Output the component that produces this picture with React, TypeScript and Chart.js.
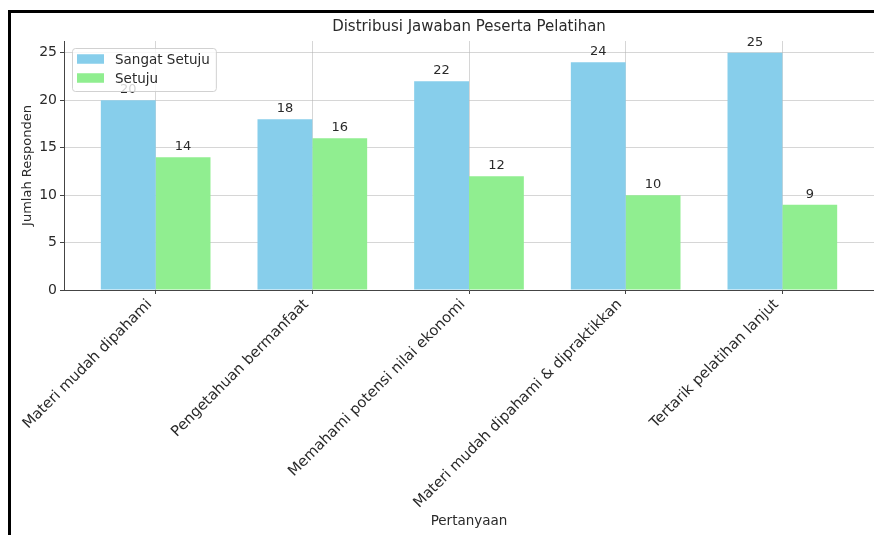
import React, { useEffect, useRef } from 'react';
import { Chart, registerables } from 'chart.js';

Chart.register(...registerables);

const categories = [
  'Materi mudah dipahami',
  'Pengetahuan bermanfaat',
  'Memahami potensi nilai ekonomi',
  'Materi mudah dipahami & dipraktikkan',
  'Tertarik pelatihan lanjut',
];
const sangatSetuju = [20, 18, 22, 24, 25];
const setuju = [14, 16, 12, 10, 9];
const yTicks = [0, 5, 10, 15, 20, 25];
const seriesLabels = ['Sangat Setuju', 'Setuju'];
const seriesColors = ['#87CEEB', '#90EE90'];
const chartTitle = 'Distribusi Jawaban Peserta Pelatihan';
const xTitle = 'Pertanyaan';
const yTitle = 'Jumlah Responden';

const FONT = '"DejaVu Sans", sans-serif';
const TEXT = '#2a2a2a';

const valueLabels = {
  id: 'valueLabels',
  afterDatasetsDraw(chart: any) {
    const ctx = chart.ctx;
    const yScale = chart.scales.y;
    ctx.save();
    ctx.font = `13px ${FONT}`;
    ctx.fillStyle = TEXT;
    ctx.textAlign = 'center';
    ctx.textBaseline = 'alphabetic';
    chart.data.datasets.forEach((ds: any, di: number) => {
      const meta = chart.getDatasetMeta(di);
      meta.data.forEach((el: any, i: number) => {
        const v = ds.data[i].y;
        ctx.fillText(String(v), el.x, yScale.getPixelForValue(v) - 7);
      });
    });
    ctx.restore();
  },
};

const boxLegend = {
  id: 'boxLegend',
  afterDraw(chart: any) {
    const ctx = chart.ctx;
    const { left, top } = chart.chartArea;
    ctx.save();
    ctx.font = `13.5px ${FONT}`;
    const labels = chart.data.datasets.map((d: any) => d.label);
    const maxW = Math.max(...labels.map((l: string) => ctx.measureText(l).width));
    const bx = left + 8;
    const by = top + 7;
    const bw = 43 + maxW + 6;
    const bh = 43;
    ctx.beginPath();
    ctx.roundRect(bx + 0.5, by + 0.5, bw, bh, 3);
    ctx.fillStyle = 'rgba(255,255,255,0.8)';
    ctx.fill();
    ctx.strokeStyle = 'rgba(204,204,204,0.9)';
    ctx.lineWidth = 1;
    ctx.stroke();
    chart.data.datasets.forEach((d: any, i: number) => {
      const cy = by + 11 + i * 19;
      ctx.fillStyle = d.backgroundColor;
      ctx.fillRect(bx + 5, cy - 4.75, 27, 9.5);
      ctx.fillStyle = TEXT;
      ctx.textAlign = 'left';
      ctx.textBaseline = 'middle';
      ctx.fillText(d.label, bx + 43, cy + 1);
    });
    ctx.restore();
  },
};

export default function App() {
  const ref = useRef<HTMLCanvasElement | null>(null);

  useEffect(() => {
    if (!ref.current) return;
    const gridCommon = {
      color: 'rgba(176,176,176,0.65)',
      lineWidth: 0.8,
      borderDash: [2.5, 2],
      dash: [2.5, 2],
      tickBorderDash: [],
      tickColor: '#444444',
      tickLength: 4,
      tickWidth: 1,
      drawTicks: true,
      offset: false,
    };
    const chart = new Chart(ref.current, {
      type: 'bar',
      data: {
        datasets: [
          {
            label: seriesLabels[0],
            data: sangatSetuju.map((v, i) => ({ x: i, y: v })),
            backgroundColor: seriesColors[0],
            borderWidth: 0,
            categoryPercentage: 0.7,
            barPercentage: 1.0,
          },
          {
            label: seriesLabels[1],
            data: setuju.map((v, i) => ({ x: i, y: v })),
            backgroundColor: seriesColors[1],
            borderWidth: 0,
            categoryPercentage: 0.7,
            barPercentage: 1.0,
          },
        ] as any,
      },
      options: {
        responsive: false,
        animation: false,
        layout: { padding: 0 },
        plugins: {
          legend: { display: false },
          tooltip: { enabled: false },
          title: {
            display: true,
            text: chartTitle,
            fullSize: false,
            color: TEXT,
            font: { family: FONT, size: 15, weight: 'normal' },
            padding: { top: 18, bottom: 5 },
          },
        },
        scales: {
          x: {
            type: 'linear',
            position: 'bottom',
            min: -0.585,
            max: 4.585,
            offset: false,
            afterBuildTicks: (axis: any) => {
              axis.ticks = categories.map((_, i) => ({ value: i }));
            },
            afterFit: (axis: any) => {
              axis.height = 245;
            },
            ticks: {
              autoSkip: false,
              minRotation: 45,
              maxRotation: 45,
              padding: 2,
              labelOffset: -6,
              color: TEXT,
              font: { family: FONT, size: 14.7 },
              callback: (v: any) => categories[Math.round(Number(v))],
            },
            grid: gridCommon as any,
            border: { display: true, color: '#444444', width: 1 },
            title: {
              display: true,
              text: xTitle,
              color: TEXT,
              font: { family: FONT, size: 13.5 },
              padding: { top: 0, bottom: 5 },
            },
          },
          y: {
            type: 'linear',
            min: 0,
            max: 26.25,
            afterBuildTicks: (axis: any) => {
              axis.ticks = yTicks.map((v) => ({ value: v }));
            },
            afterFit: (axis: any) => {
              axis.width = 64;
            },
            ticks: {
              padding: 3,
              color: TEXT,
              font: { family: FONT, size: 14 },
            },
            grid: gridCommon as any,
            border: { display: true, color: '#444444', width: 1 },
            title: {
              display: true,
              text: yTitle,
              color: TEXT,
              font: { family: FONT, size: 13 },
              padding: { top: 20, bottom: 0 },
            },
          },
        },
      } as any,
      plugins: [valueLabels, boxLegend],
    });
    return () => chart.destroy();
  }, []);

  return (
    <div style={{ position: 'absolute', left: 0, top: 0, width: 874, height: 535, background: '#fff', overflow: 'hidden' }}>
      <canvas ref={ref} width={874} height={535} style={{ display: 'block', width: 874, height: 535 }} />
      <div
        style={{
          position: 'absolute',
          left: 8,
          top: 10,
          right: -5,
          bottom: -5,
          borderLeft: '3px solid #000',
          borderTop: '3px solid #000',
          pointerEvents: 'none',
        }}
      />
    </div>
  );
}
